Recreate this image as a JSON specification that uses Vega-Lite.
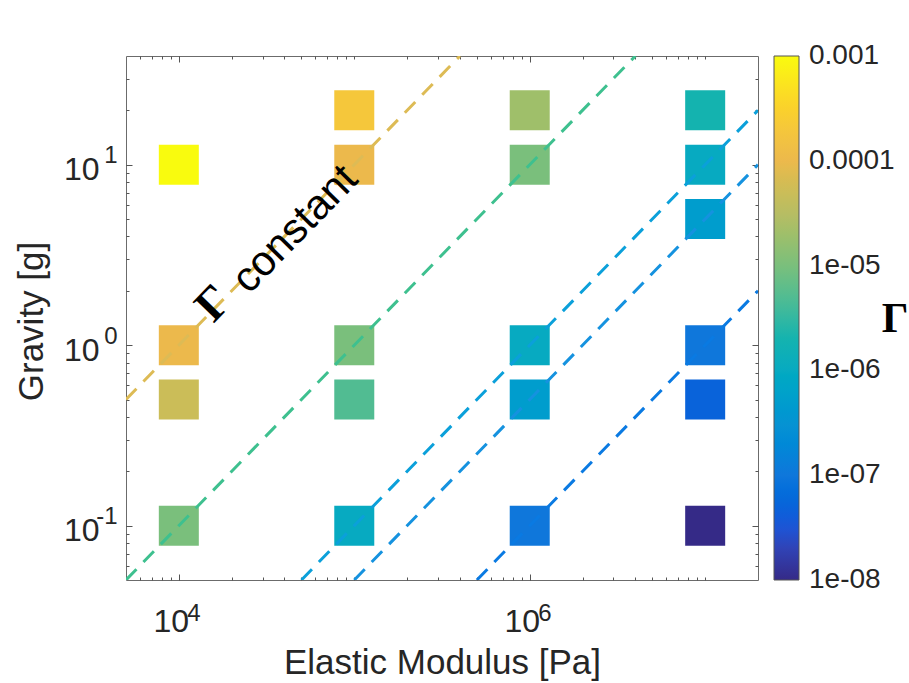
{
  "$schema": "https://vega.github.io/schema/vega-lite/v6.json",
  "width": 632,
  "height": 524,
  "autosize": {"type": "none"},
  "padding": {"left": 126, "top": 56, "right": 151, "bottom": 103},
  "background": "white",
  "config": {
    "font": "Liberation Sans",
    "view": {"stroke": "#6b6b6b", "strokeWidth": 1},
    "axis": {
      "domain": false,
      "grid": false,
      "tickColor": "#555555",
      "tickWidth": 1,
      "labelColor": "#262626",
      "titleColor": "#262626",
      "labelFont": "Liberation Sans",
      "titleFont": "Liberation Sans",
      "titleFontWeight": "normal",
      "labelOverlap": false,
      "labelFlush": false,
      "labelBound": false
    }
  },
  "resolve": {
    "scale": {"color": "independent"},
    "axis": {"x": "independent", "y": "independent"}
  },
  "layer": [
    {
      "description": "Simulation runs, one square per (modulus, gravity) pair, coloured by Gamma",
      "data": {
        "values": [
          {"modulus": 10000, "gravity": 10, "gamma": 0.001},
          {"modulus": 10000, "gravity": 1, "gamma": 0.0001},
          {"modulus": 10000, "gravity": 0.5, "gamma": 0.00005},
          {"modulus": 10000, "gravity": 0.1, "gamma": 0.00001},
          {"modulus": 100000, "gravity": 20, "gamma": 0.0002},
          {"modulus": 100000, "gravity": 10, "gamma": 0.0001},
          {"modulus": 100000, "gravity": 1, "gamma": 0.00001},
          {"modulus": 100000, "gravity": 0.5, "gamma": 0.000005},
          {"modulus": 100000, "gravity": 0.1, "gamma": 0.000001},
          {"modulus": 1000000, "gravity": 20, "gamma": 0.00002},
          {"modulus": 1000000, "gravity": 10, "gamma": 0.00001},
          {"modulus": 1000000, "gravity": 1, "gamma": 0.000001},
          {"modulus": 1000000, "gravity": 0.5, "gamma": 5e-7},
          {"modulus": 1000000, "gravity": 0.1, "gamma": 1e-7},
          {"modulus": 10000000, "gravity": 20, "gamma": 0.000002},
          {"modulus": 10000000, "gravity": 10, "gamma": 0.000001},
          {"modulus": 10000000, "gravity": 5, "gamma": 5e-7},
          {"modulus": 10000000, "gravity": 1, "gamma": 1e-7},
          {"modulus": 10000000, "gravity": 0.5, "gamma": 5e-8},
          {"modulus": 10000000, "gravity": 0.1, "gamma": 1e-8}
        ]
      },
      "mark": {"type": "square", "size": 1600, "filled": true, "opacity": 1},
      "encoding": {
        "x": {
          "field": "modulus",
          "type": "quantitative",
          "scale": {"type": "log", "domain": [5000, 20000000], "nice": false},
          "axis": {
            "orient": "bottom",
            "values": [10000, 1000000],
            "tickSize": -6,
            "labelExpr": "'10'",
            "labelFontSize": 32,
            "labelPadding": 32,
            "labelOffset": -8,
            "title": "Elastic Modulus [Pa]",
            "titleFontSize": 35,
            "titleBaseline": "alphabetic",
            "titleY": 93
          }
        },
        "y": {
          "field": "gravity",
          "type": "quantitative",
          "scale": {"type": "log", "domain": [0.05, 40], "nice": false},
          "axis": {
            "orient": "left",
            "values": [0.1, 1, 10],
            "tickSize": -6,
            "labelExpr": "datum.value < 0.5 ? '10\u00a0' : '10'",
            "labelFontSize": 32,
            "labelAlign": "right",
            "labelBaseline": "middle",
            "labelPadding": 33,
            "labelOffset": 5,
            "title": "Gravity [g]",
            "titleFontSize": 35,
            "titleBaseline": "alphabetic",
            "titleX": -84,
            "titleY": 265
          }
        },
        "color": {
          "field": "gamma",
          "type": "quantitative",
          "scale": {
            "type": "log",
            "domain": [9.99e-9, 3.16228e-8, 1e-7, 3.16228e-7, 0.000001, 0.00000316228, 0.00001, 0.0000316228, 0.0001, 0.000316228, 0.0010005],
            "range": ["#352A87", "#1B55D7", "#0F77DB", "#0C93D2", "#07AAC1", "#33B8A1", "#7ABF7C", "#B8BD63", "#ECB94C", "#FAD12B", "#F9FB0E"]
          },
          "legend": {
            "orient": "right",
            "offset": 15,
            "padding": 0,
            "direction": "vertical",
            "gradientLength": 524,
            "gradientThickness": 25,
            "gradientStrokeColor": "#555555",
            "gradientStrokeWidth": 1,
            "values": [0.001, 0.0001, 0.00001, 0.000001, 1e-7, 1e-8],
            "labelExpr": "datum.value > 0.0005 ? '0.001' : datum.value > 0.00005 ? '0.0001' : '1e-0' + round(-log(datum.value) / LN10)",
            "labelFont": "Liberation Sans",
            "labelFontSize": 28,
            "labelColor": "#262626",
            "labelOffset": 10,
            "labelBaseline": "middle",
            "labelOverlap": false,
            "title": null
          }
        }
      }
    },
    {
      "description": "Lines of constant Gamma (gravity proportional to modulus)",
      "data": {
        "values": [
          {"modulus": 5000, "gravity": 0.5, "gamma": 0.0001},
          {"modulus": 400000, "gravity": 40, "gamma": 0.0001},
          {"modulus": 5000, "gravity": 0.05, "gamma": 0.00001},
          {"modulus": 4000000, "gravity": 40, "gamma": 0.00001},
          {"modulus": 50000, "gravity": 0.05, "gamma": 0.000001},
          {"modulus": 20000000, "gravity": 20, "gamma": 0.000001},
          {"modulus": 100000, "gravity": 0.05, "gamma": 5e-7},
          {"modulus": 20000000, "gravity": 10, "gamma": 5e-7},
          {"modulus": 500000, "gravity": 0.05, "gamma": 1e-7},
          {"modulus": 20000000, "gravity": 2, "gamma": 1e-7}
        ]
      },
      "mark": {"type": "line", "strokeWidth": 3, "strokeDash": [15, 10], "clip": true},
      "encoding": {
        "x": {
          "field": "modulus",
          "type": "quantitative",
          "scale": {"type": "log", "domain": [5000, 20000000], "nice": false},
          "axis": {
            "orient": "bottom",
            "values": [6000, 7000, 8000, 9000, 10000, 20000, 30000, 40000, 50000, 60000, 70000, 80000, 90000, 100000, 200000, 300000, 400000, 500000, 600000, 700000, 800000, 900000, 1000000, 2000000, 3000000, 4000000, 5000000, 6000000, 7000000, 8000000, 9000000, 10000000],
            "tickSize": -3,
            "labelExpr": "datum.value == 10000 ? '4' : datum.value == 1000000 ? '6' : ''",
            "labelFontSize": 24,
            "labelAlign": "left",
            "labelPadding": 24,
            "labelOffset": 8,
            "title": null
          }
        },
        "y": {
          "field": "gravity",
          "type": "quantitative",
          "scale": {"type": "log", "domain": [0.05, 40], "nice": false},
          "axis": {
            "orient": "left",
            "values": [0.06, 0.07, 0.08, 0.09, 0.1, 0.2, 0.3, 0.4, 0.5, 0.6, 0.7, 0.8, 0.9, 1, 2, 3, 4, 5, 6, 7, 8, 9, 10, 20, 30],
            "tickSize": -3,
            "labelExpr": "datum.value == 10 ? '1' : datum.value == 1 ? '0' : datum.value == 0.1 ? '-1' : ''",
            "labelFontSize": 24,
            "labelAlign": "right",
            "labelBaseline": "middle",
            "labelPadding": 12,
            "labelOffset": -9,
            "title": null
          }
        },
        "detail": {"field": "gamma", "type": "nominal"},
        "color": {
          "field": "gamma",
          "type": "ordinal",
          "scale": {
            "domain": [1e-7, 5e-7, 0.000001, 0.00001, 0.0001],
            "range": ["#0A7AE2", "#1592DF", "#0BA0DA", "#3EC08F", "#DDBB55"]
          },
          "legend": null
        }
      }
    },
    {
      "description": "Greek letter of the line annotation",
      "data": {"values": [{"modulus": 15800, "gravity": 1.70, "label": "Γ"}]},
      "mark": {"type": "text", "font": "Liberation Serif", "fontWeight": "bold", "fontSize": 46, "angle": 314.2, "align": "center", "baseline": "middle", "color": "#000000"},
      "encoding": {
        "x": {
          "field": "modulus",
          "type": "quantitative",
          "scale": {"type": "log", "domain": [5000, 20000000], "nice": false},
          "axis": {"orient": "top", "values": [10000, 1000000], "tickSize": -6, "labels": false, "title": null}
        },
        "y": {
          "field": "gravity",
          "type": "quantitative",
          "scale": {"type": "log", "domain": [0.05, 40], "nice": false},
          "axis": {"orient": "right", "values": [0.1, 1, 10], "tickSize": -6, "labels": false, "title": null}
        },
        "text": {"field": "label"}
      }
    },
    {
      "description": "Rest of the line annotation",
      "data": {"values": [{"modulus": 45900, "gravity": 4.4, "label": "constant"}]},
      "mark": {"type": "text", "font": "Liberation Sans", "fontSize": 42, "angle": 314.2, "align": "center", "baseline": "middle", "color": "#000000"},
      "encoding": {
        "x": {
          "field": "modulus",
          "type": "quantitative",
          "scale": {"type": "log", "domain": [5000, 20000000], "nice": false},
          "axis": {
            "orient": "top",
            "values": [6000, 7000, 8000, 9000, 10000, 20000, 30000, 40000, 50000, 60000, 70000, 80000, 90000, 100000, 200000, 300000, 400000, 500000, 600000, 700000, 800000, 900000, 1000000, 2000000, 3000000, 4000000, 5000000, 6000000, 7000000, 8000000, 9000000, 10000000],
            "tickSize": -3,
            "labels": false,
            "title": null
          }
        },
        "y": {
          "field": "gravity",
          "type": "quantitative",
          "scale": {"type": "log", "domain": [0.05, 40], "nice": false},
          "axis": {
            "orient": "right",
            "values": [0.06, 0.07, 0.08, 0.09, 0.1, 0.2, 0.3, 0.4, 0.5, 0.6, 0.7, 0.8, 0.9, 1, 2, 3, 4, 5, 6, 7, 8, 9, 10, 20, 30],
            "tickSize": -3,
            "labels": false,
            "title": null
          }
        },
        "text": {"field": "label"}
      }
    },
    {
      "description": "Colour bar caption, set just right of the colour bar labels",
      "data": {"values": [{"modulus": 121000000, "gravity": 1.40, "label": "Γ"}]},
      "mark": {"type": "text", "font": "Liberation Serif", "fontWeight": "bold", "fontSize": 42, "align": "center", "baseline": "middle", "color": "#000000", "clip": false},
      "encoding": {
        "x": {
          "field": "modulus",
          "type": "quantitative",
          "scale": {"type": "log", "domain": [5000, 20000000], "nice": false},
          "axis": null
        },
        "y": {
          "field": "gravity",
          "type": "quantitative",
          "scale": {"type": "log", "domain": [0.05, 40], "nice": false},
          "axis": null
        },
        "text": {"field": "label"}
      }
    }
  ]
}
